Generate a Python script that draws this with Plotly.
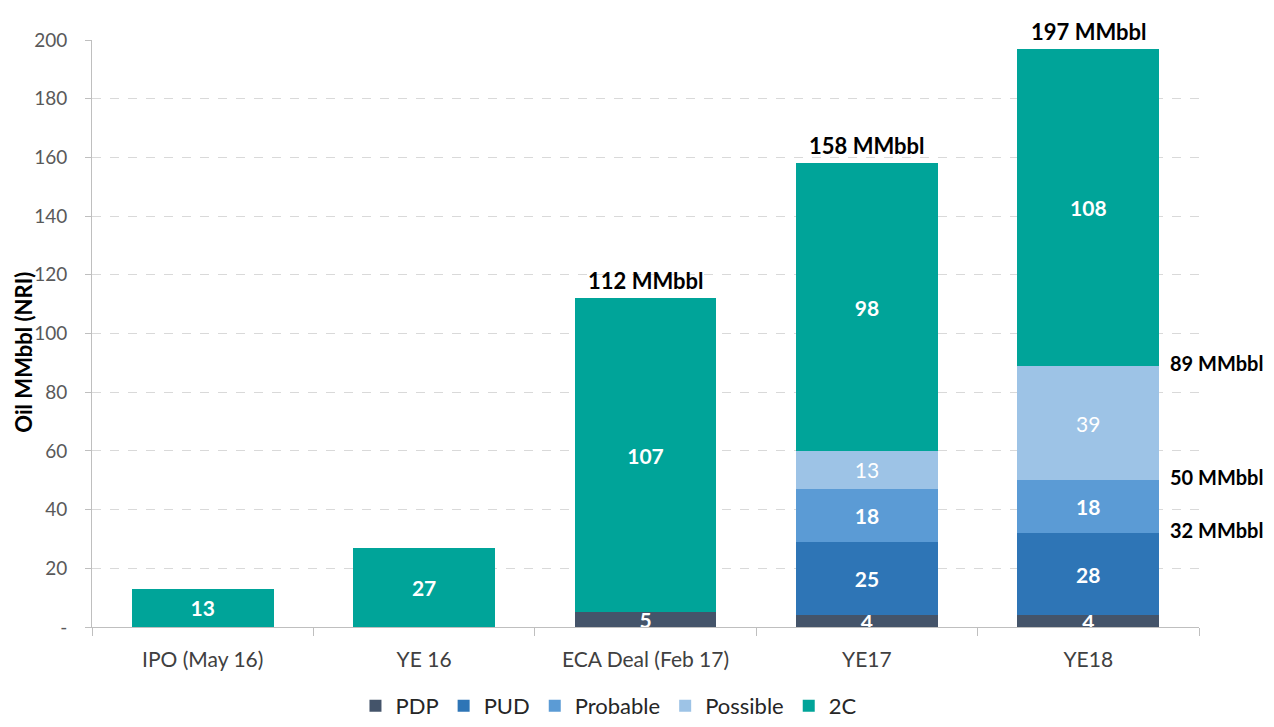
import plotly.graph_objects as go

categories = ["IPO (May 16)", "YE 16", "ECA Deal (Feb 17)", "YE17", "YE18"]
pdp = [0, 0, 5, 4, 4]
pud = [0, 0, 0, 25, 28]
probable = [0, 0, 0, 18, 18]
possible = [0, 0, 0, 13, 39]
c2 = [13, 27, 107, 98, 108]
totals_labeled = {"ECA Deal (Feb 17)": 112, "YE17": 158, "YE18": 197}
side_labels = [89, 50, 32]

series = [
    ("PDP", pdp, "#44546A", "bold"),
    ("PUD", pud, "#2E75B6", "bold"),
    ("Probable", probable, "#5B9BD5", "bold"),
    ("Possible", possible, "#9DC3E6", "normal"),
    ("2C", c2, "#00A499", "bold"),
]

FONT = "Lato, Open Sans, sans-serif"
fig = go.Figure()
for name, vals, color, weight in series:
    fig.add_trace(go.Bar(
        name=name, x=categories, y=vals, marker_color=color,
        marker_line_width=0,
        text=[str(v) if v > 0 else "" for v in vals],
        textposition="inside", insidetextanchor="middle",
        constraintext="none", textangle=0,
        textfont=dict(color="white", size=21, family=FONT, weight=weight),
        hoverinfo="skip",
    ))

for cat, tot in totals_labeled.items():
    fig.add_annotation(x=cat, y=tot, text=f"{tot} MMbbl", showarrow=False,
                       yanchor="bottom", yshift=2,
                       font=dict(size=22, color="black", family=FONT, weight="bold"))

for v in side_labels:
    fig.add_annotation(x=4, y=v, text=f"{v} MMbbl", showarrow=False,
                       xanchor="left", xshift=80, yanchor="middle", yshift=3,
                       font=dict(size=20, color="black", family=FONT, weight="bold"))

# y-axis title
fig.add_annotation(xref="paper", yref="paper", x=-0.062, y=0.468,
                   text="<b>Oil MMbbl (NRI)</b>", textangle=-90, showarrow=False,
                   xanchor="center", yanchor="middle",
                   font=dict(size=22, color="black", family=FONT))

fig.update_layout(
    barmode="stack", bargap=0.36,
    width=1266, height=719,
    margin=dict(l=84, r=75, t=32, b=100),
    plot_bgcolor="white", paper_bgcolor="white",
    font=dict(family=FONT, color="#404040"),
    legend=dict(orientation="h", x=0.467, xanchor="center",
                yref="container", y=0.0, yanchor="bottom",
                font=dict(size=22, color="#262626", family=FONT),
                traceorder="normal", itemwidth=30),
)
fig.update_xaxes(
    range=[-0.5, 4.5], autorange=False, automargin=False,
    showline=True, linecolor="#BFBFBF", linewidth=1,
    ticks="outside", tickson="boundaries", ticklen=8, tickcolor="#BFBFBF",
    ticklabelstandoff=14,
    tickfont=dict(size=21, color="#404040", family=FONT),
    showgrid=False,
)
fig.update_yaxes(
    range=[0, 200], autorange=False, automargin=False, tickmode="array",
    tickvals=[0, 20, 40, 60, 80, 100, 120, 140, 160, 180, 200],
    ticktext=["-", "20", "40", "60", "80", "100", "120", "140", "160", "180", "200"],
    showline=True, linecolor="#BFBFBF", linewidth=1,
    ticks="outside", ticklen=6, tickcolor="#BFBFBF",
    ticklabelstandoff=14,
    tickfont=dict(size=19, color="#595959", family=FONT),
    showgrid=True, gridcolor="#D9D9D9", griddash="dash", gridwidth=1,
    zeroline=False,
)

fig.write_html("out.html")
